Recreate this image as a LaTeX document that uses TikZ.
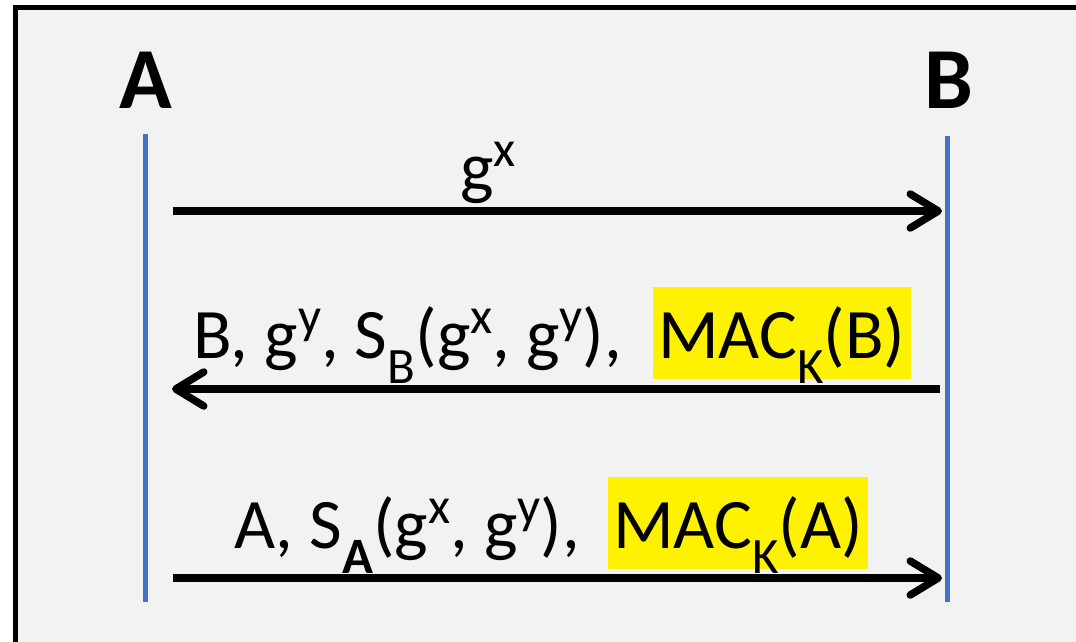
\documentclass[tikz,border=0pt]{standalone}
\usepackage{fontspec}
\setmainfont{Carlito}
\usepackage{tikz}
\usetikzlibrary{arrows.meta,positioning}

\definecolor{panelgray}{HTML}{F2F2F2}
\definecolor{lifeblue}{HTML}{4472C4}
\newcommand{\sups}[1]{\raisebox{25pt}{\fontsize{51}{52}\selectfont #1}}
\newcommand{\subs}[1]{\raisebox{-25pt}{\fontsize{51}{52}\selectfont #1}}

\begin{document}
\begin{tikzpicture}[
  x=1pt, y=-1pt,
  party/.style={font=\fontsize{87}{90}\selectfont\bfseries, inner sep=0pt, anchor=base},
  msg/.style={font=\fontsize{71}{73}\selectfont, inner sep=0pt, anchor=base west},
  mac/.style={msg, fill=yellow, text height=71pt, text depth=21pt, inner xsep=5pt},
  life/.style={lifeblue, line width=5.5pt},
  arr/.style={-{Straight Barb[length=28pt, width=34pt, round]}, line width=7.5pt}
]
  \useasboundingbox (0,0) rectangle (1076,641);
  \clip (0,0) rectangle (1076,641);
  \draw[line width=5pt, fill=panelgray] (15.5,7.5) rectangle (1100,670);

  % parties and lifelines
  \node[party] (A) at (146,108) {A};
  \node[party] (B) at (949,108) {B};
  \coordinate (Atop) at (145.5,134);
  \coordinate (Abot) at (145.5,602);
  \coordinate (Btop) at (947.5,136);
  \coordinate (Bbot) at (947.5,602);
  \draw[life] (Atop) -- (Abot);
  \draw[life] (Btop) -- (Bbot);

  % messages
  \coordinate (m1s) at (173,211);
  \coordinate (m1e) at (942,211);
  \coordinate (m2s) at (940,389);
  \coordinate (m2e) at (172,389);
  \coordinate (m3s) at (173,578);
  \coordinate (m3e) at (942,578);

  \node[msg] (gx) at (460,191) {g\sups{x}};
  \draw[arr] (m1s) -- (m1e);

  \node[msg] (lblB) at (193,358) {B, g\sups{y}, S\subs{B}(g\sups{x}, g\sups{y}),};
  \node[mac] (macB) at (653,358) {MAC\subs{K}(B)};
  \draw[arr] (m2s) -- (m2e);

  \node[msg] (lblA) at (234,548) {A, S\subs{\textbf{A}}(g\sups{x}, g\sups{y}),};
  \node[mac] (macA) at (608,548) {MAC\subs{K}(A)};
  \draw[arr] (m3s) -- (m3e);
\end{tikzpicture}
\end{document}
